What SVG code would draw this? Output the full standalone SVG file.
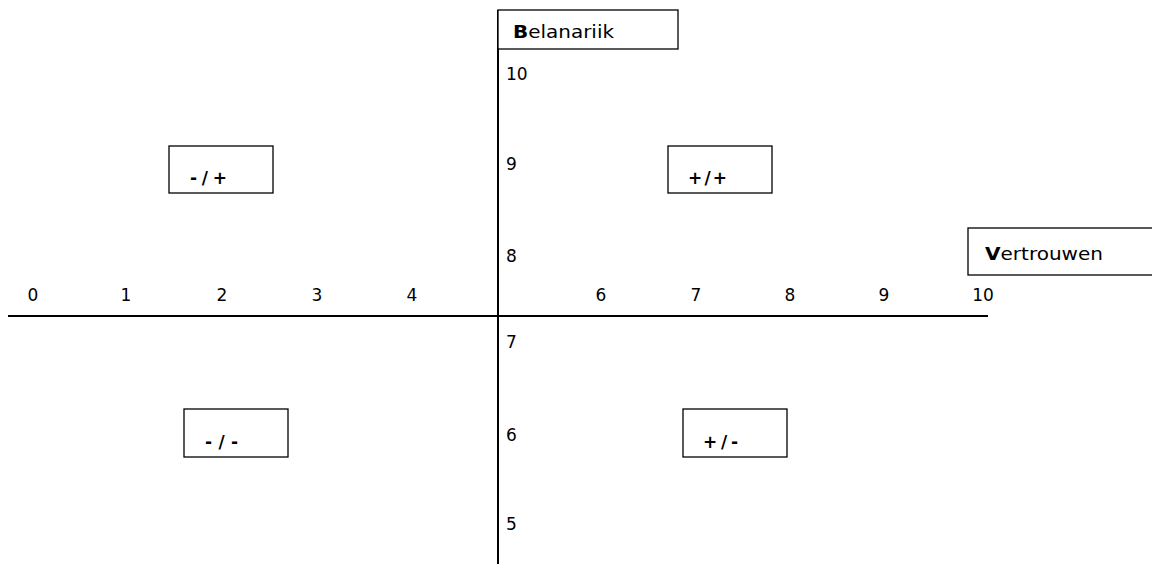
<svg xmlns="http://www.w3.org/2000/svg" width="1152" height="564" viewBox="0 0 1152 564">
<style>
text{font-family:"DejaVu Sans","Liberation Sans",Arial,sans-serif;font-size:17px;fill:#000}
.box{fill:#fff;stroke:#000;stroke-width:1.3}
.q{font-weight:bold;font-size:17px}
.axis{stroke:#000;stroke-width:2}
</style>
<rect width="1152" height="564" fill="#fff"/>
<g id="connectors">
<line class="axis" x1="8" y1="316" x2="988" y2="316"/>
<line class="axis" x1="498" y1="10" x2="498" y2="564"/>
</g>
<g id="belangrijk">
<rect class="box" x="498" y="10" width="180" height="39"/>
<text x="513" y="38" textLength="101" lengthAdjust="spacingAndGlyphs"><tspan font-weight="bold">B</tspan>elanariik</text>
</g>
<g id="vertrouwen">
<rect class="box" x="968" y="228" width="190" height="47"/>
<text x="985" y="260" textLength="118" lengthAdjust="spacingAndGlyphs"><tspan font-weight="bold">V</tspan>ertrouwen</text>
</g>
<g id="xticks" text-anchor="middle">
<text x="33" y="301">0</text>
<text x="126" y="301">1</text>
<text x="222" y="301">2</text>
<text x="317" y="301">3</text>
<text x="412" y="301">4</text>
<text x="601" y="301">6</text>
<text x="696" y="301">7</text>
<text x="790" y="301">8</text>
<text x="884" y="301">9</text>
<text x="983" y="301">10</text>
</g>
<g id="yticks">
<text x="506" y="80">10</text>
<text x="506" y="170">9</text>
<text x="506" y="262">8</text>
<text x="506" y="348">7</text>
<text x="506" y="441">6</text>
<text x="506" y="530">5</text>
</g>
<g id="q-minplus">
<rect class="box" x="169" y="146" width="104" height="47"/>
<text class="q" x="190" y="184" textLength="37" lengthAdjust="spacing">-/+</text>
</g>
<g id="q-plusplus">
<rect class="box" x="668" y="146" width="104" height="47"/>
<text class="q" x="688" y="184" textLength="39" lengthAdjust="spacing">+/+</text>
</g>
<g id="q-minmin">
<rect class="box" x="184" y="409" width="104" height="48"/>
<text class="q" x="205" y="448" textLength="33" lengthAdjust="spacing">-/-</text>
</g>
<g id="q-plusmin">
<rect class="box" x="683" y="409" width="104" height="48"/>
<text class="q" x="703" y="448" textLength="35" lengthAdjust="spacing">+/-</text>
</g>
</svg>
